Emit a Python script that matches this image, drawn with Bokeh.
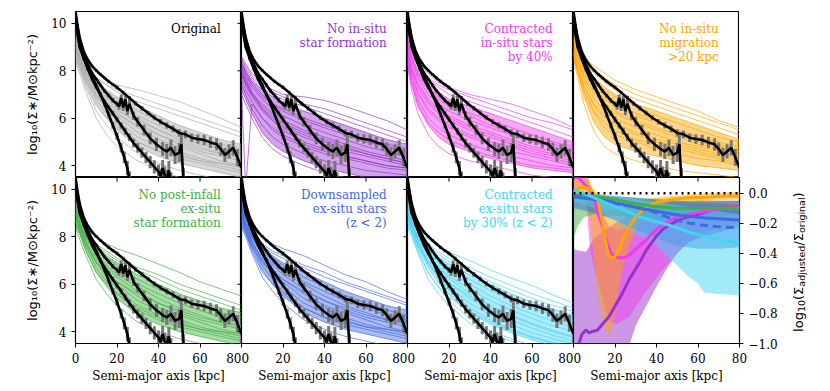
import math
from bokeh.plotting import figure
from bokeh.layouts import column, row
from bokeh.models import FixedTicker, Label, Range1d, CustomJSTickFormatter
from bokeh.embed import file_html
from bokeh.resources import INLINE

# ---------------- data ----------------
R = [0, 2, 5, 10, 15, 20, 30, 40, 50, 60, 70, 80]

original = [
    [9.9, 9.1, 8.5, 7.9, 7.6, 7.4, 7.2, 6.95, 6.7, 6.35, 6.0, 5.6],
    [9.7, 8.9, 8.3, 7.7, 7.4, 7.2, 6.9, 6.6, 6.3, 6.0, 5.7, 5.4],
    [9.6, 8.9, 8.3, 7.7, 7.4, 7.1, 6.7, 6.4, 6.1, 5.8, 5.5, 5.2],
    [9.4, 8.8, 8.2, 7.6, 7.2, 6.9, 6.5, 6.1, 5.7, 5.4, 5.1, 4.9],
    [9.5, 8.7, 8.1, 7.5, 7.1, 6.8, 6.3, 5.9, 5.5, 5.2, 4.9, 4.7],
    [9.2, 8.6, 8.0, 7.4, 7.0, 6.6, 6.1, 5.7, 5.3, 5.0, 4.7, 4.5],
    [9.2, 8.6, 7.9, 7.2, 6.7, 6.3, 5.9, 5.5, 5.2, 4.9, 4.7, 4.6],
    [9.0, 8.5, 7.9, 7.3, 6.9, 6.5, 6.0, 5.5, 5.1, 4.8, 4.5, 4.3],
    [9.0, 8.4, 7.6, 6.9, 6.5, 6.2, 5.7, 5.3, 5.0, 4.7, 4.5, 4.4],
    [9.3, 8.6, 8.0, 7.3, 6.8, 6.4, 5.8, 5.3, 4.9, 4.6, 4.4, 4.2],
    [8.9, 8.4, 7.8, 7.1, 6.6, 6.2, 5.6, 5.1, 4.8, 4.5, 4.2, 4.0],
    [8.8, 8.3, 7.7, 7.0, 6.5, 6.1, 5.4, 5.0, 4.6, 4.3, 4.1, 3.9],
    [8.7, 8.2, 7.4, 6.5, 6.0, 5.6, 5.0, 4.6, 4.4, 4.2, 4.1, 4.0],
    [9.1, 8.5, 7.8, 7.0, 6.4, 5.9, 5.2, 4.8, 4.5, 4.2, 4.0, 3.8],
    [8.6, 8.2, 7.6, 6.8, 6.2, 5.7, 5.0, 4.6, 4.3, 4.1, 3.9, 3.7],
    [8.5, 8.1, 7.5, 6.6, 6.0, 5.5, 4.8, 4.4, 4.1, 3.9, 3.7, 3.5],
    [8.4, 8.0, 7.3, 6.3, 5.7, 5.2, 4.5, 4.1, 3.8, 3.6, 3.4, 3.3],
    [8.3, 7.9, 7.1, 6.0, 5.3, 4.8, 4.2, 3.8, 3.5, 3.3, 3.2, 3.1],
]

no_insitu_sf = [
    [8.6, 8.3, 7.9, 7.5, 7.2, 7.0, 6.9, 6.75, 6.5, 6.2, 5.9, 5.5],
    [8.5, 8.2, 7.8, 7.4, 7.1, 6.9, 6.6, 6.4, 6.1, 5.8, 5.5, 5.2],
    [8.5, 8.1, 7.7, 7.3, 7.0, 6.8, 6.5, 6.2, 5.9, 5.6, 5.3, 5.0],
    [8.3, 8.0, 7.6, 7.2, 6.9, 6.6, 6.3, 6.0, 5.7, 5.4, 5.1, 4.9],
    [8.3, 7.9, 7.4, 6.9, 6.6, 6.4, 6.0, 5.7, 5.4, 5.1, 4.9, 4.7],
    [8.4, 8.0, 7.5, 7.0, 6.6, 6.3, 5.9, 5.6, 5.3, 5.0, 4.8, 4.6],
    [8.1, 7.8, 7.3, 6.8, 6.4, 6.1, 5.7, 5.4, 5.1, 4.8, 4.6, 4.4],
    [8.0, 7.5, 7.0, 6.5, 6.1, 5.8, 5.4, 5.1, 4.8, 4.5, 4.3, 4.1],
    [8.0, 7.6, 7.1, 6.6, 6.2, 5.9, 5.5, 5.2, 4.9, 4.6, 4.4, 4.2],
    [7.9, 7.5, 7.0, 6.4, 6.0, 5.7, 5.3, 5.0, 4.7, 4.5, 4.3, 4.1],
    [7.8, 7.4, 6.9, 6.3, 5.9, 5.6, 5.2, 4.9, 4.6, 4.4, 4.2, 4.0],
    [8.2, 7.7, 7.1, 6.4, 5.9, 5.5, 5.0, 4.7, 4.4, 4.2, 4.0, 3.9],
    [7.6, 7.2, 6.7, 6.0, 5.5, 5.2, 4.8, 4.5, 4.3, 4.1, 3.9, 3.8],
    [7.4, 7.0, 6.4, 5.7, 5.2, 4.9, 4.5, 4.2, 4.0, 3.8, 3.7, 3.6],
    [7.2, 6.8, 6.2, 5.4, 4.9, 4.6, 4.2, 3.9, 3.7, 3.5, 3.4, 3.3],
    [7.0, 6.6, 6.0, 5.2, 4.7, 4.4, 4.0, 3.7, 3.5, 3.4, 3.3, 3.2],
    [7.2, 3.0, 6.6, 6.0, 5.6, 5.3, 4.9, 4.6, 4.4, 4.2, 4.0, 3.9],
]

contracted_insitu = [
    [9.8, 9.0, 8.4, 7.9, 7.5, 7.3, 7.0, 6.8, 6.6, 6.3, 6.0, 5.6],
    [9.6, 8.9, 8.3, 7.7, 7.4, 7.2, 6.9, 6.6, 6.3, 6.0, 5.8, 5.5],
    [9.5, 8.8, 8.2, 7.6, 7.3, 7.0, 6.7, 6.4, 6.1, 5.8, 5.5, 5.2],
    [9.4, 8.7, 8.0, 7.4, 7.1, 6.8, 6.5, 6.2, 5.9, 5.6, 5.3, 5.0],
    [9.3, 8.6, 7.9, 7.3, 6.9, 6.6, 6.2, 5.9, 5.6, 5.3, 5.0, 4.8],
    [9.2, 8.5, 7.8, 7.2, 6.8, 6.5, 6.1, 5.7, 5.4, 5.1, 4.9, 4.7],
    [9.1, 8.4, 7.7, 7.0, 6.6, 6.3, 5.9, 5.6, 5.3, 5.0, 4.8, 4.6],
    [9.0, 8.2, 7.5, 6.8, 6.4, 6.1, 5.7, 5.4, 5.1, 4.8, 4.6, 4.4],
    [8.9, 8.1, 7.4, 6.7, 6.3, 6.0, 5.6, 5.3, 5.0, 4.7, 4.5, 4.3],
    [8.8, 8.0, 7.3, 6.6, 6.2, 5.9, 5.5, 5.2, 4.9, 4.6, 4.4, 4.2],
    [8.7, 7.9, 7.1, 6.4, 6.0, 5.7, 5.3, 5.0, 4.8, 4.5, 4.3, 4.1],
    [8.6, 7.8, 7.0, 6.3, 5.9, 5.6, 5.2, 4.9, 4.6, 4.4, 4.2, 4.0],
    [8.5, 7.6, 6.8, 6.0, 5.6, 5.3, 4.9, 4.6, 4.4, 4.2, 4.0, 3.9],
    [8.4, 7.5, 6.6, 5.8, 5.4, 5.1, 4.7, 4.4, 4.2, 4.0, 3.9, 3.8],
    [8.3, 7.4, 6.5, 5.7, 5.2, 4.9, 4.6, 4.3, 4.1, 3.9, 3.8, 3.7],
    [8.2, 7.2, 6.2, 5.3, 4.8, 4.5, 4.2, 4.0, 3.8, 3.6, 3.5, 3.4],
]

no_migration = [
    [9.8, 9.1, 8.5, 8.2, 7.9, 7.6, 7.2, 6.9, 6.6, 6.3, 5.9, 5.6],
    [9.6, 9.0, 8.4, 8.0, 7.7, 7.4, 7.0, 6.7, 6.4, 6.1, 5.8, 5.5],
    [9.5, 8.9, 8.3, 7.9, 7.5, 7.2, 6.8, 6.5, 6.2, 5.9, 5.6, 5.3],
    [9.4, 8.8, 8.2, 7.7, 7.3, 7.0, 6.6, 6.3, 6.0, 5.7, 5.4, 5.1],
    [9.3, 8.7, 8.1, 7.6, 7.2, 6.9, 6.5, 6.1, 5.8, 5.5, 5.2, 5.0],
    [9.2, 8.6, 8.0, 7.4, 6.9, 6.6, 6.2, 5.9, 5.5, 5.2, 5.0, 4.8],
    [9.1, 8.6, 7.9, 7.3, 6.8, 6.5, 6.1, 5.8, 5.5, 5.2, 4.9, 4.7],
    [9.0, 8.5, 7.8, 7.1, 6.6, 6.3, 5.9, 5.6, 5.3, 5.0, 4.8, 4.6],
    [9.0, 8.4, 7.7, 7.0, 6.5, 6.2, 5.8, 5.5, 5.2, 4.9, 4.7, 4.5],
    [8.9, 8.3, 7.6, 6.8, 6.3, 6.0, 5.6, 5.3, 5.0, 4.8, 4.6, 4.4],
    [8.8, 8.2, 7.4, 6.5, 6.0, 5.7, 5.3, 5.0, 4.8, 4.6, 4.4, 4.2],
    [8.8, 8.1, 7.3, 6.6, 6.1, 5.8, 5.4, 5.1, 4.9, 4.7, 4.5, 4.3],
    [8.7, 8.0, 7.1, 6.2, 5.6, 5.3, 5.0, 4.7, 4.5, 4.3, 4.2, 4.0],
    [8.7, 8.0, 7.2, 6.3, 5.8, 5.5, 5.1, 4.9, 4.7, 4.5, 4.3, 4.1],
    [8.6, 7.9, 6.9, 5.8, 5.2, 4.9, 4.6, 4.4, 4.2, 4.0, 3.9, 3.8],
    [8.5, 7.7, 6.6, 5.4, 4.8, 4.5, 4.2, 4.0, 3.8, 3.7, 3.6, 3.5],
]

no_exsitu_sf = [
    [9.8, 9.1, 8.5, 8.0, 7.7, 7.5, 7.2, 6.85, 6.5, 6.1, 5.8, 5.5],
    [9.7, 8.9, 8.2, 7.6, 7.3, 7.0, 6.6, 6.2, 5.8, 5.5, 5.2, 4.9],
    [9.6, 8.9, 8.3, 7.7, 7.4, 7.1, 6.7, 6.4, 6.0, 5.7, 5.4, 5.1],
    [9.4, 8.8, 8.2, 7.6, 7.2, 6.9, 6.4, 6.0, 5.6, 5.3, 5.0, 4.8],
    [9.5, 8.7, 8.1, 7.5, 7.1, 6.8, 6.2, 5.8, 5.4, 5.1, 4.8, 4.6],
    [9.2, 8.6, 8.0, 7.4, 7.0, 6.6, 6.0, 5.6, 5.2, 4.9, 4.6, 4.4],
    [9.0, 8.5, 7.9, 7.3, 6.8, 6.4, 5.9, 5.4, 5.0, 4.7, 4.4, 4.2],
    [9.0, 8.4, 7.6, 6.9, 6.4, 6.1, 5.6, 5.2, 4.9, 4.6, 4.4, 4.3],
    [9.3, 8.6, 8.0, 7.3, 6.7, 6.3, 5.7, 5.2, 4.8, 4.5, 4.3, 4.1],
    [8.9, 8.4, 7.8, 7.1, 6.5, 6.1, 5.5, 5.0, 4.7, 4.4, 4.1, 3.9],
    [8.8, 8.3, 7.7, 7.0, 6.4, 6.0, 5.3, 4.9, 4.5, 4.2, 4.0, 3.8],
    [8.7, 8.2, 7.4, 6.5, 6.0, 5.6, 5.0, 4.6, 4.3, 4.1, 4.0, 3.9],
    [9.1, 8.5, 7.8, 6.9, 6.3, 5.8, 5.1, 4.7, 4.4, 4.1, 3.9, 3.7],
    [8.6, 8.2, 7.6, 6.7, 6.1, 5.6, 4.9, 4.5, 4.2, 4.0, 3.8, 3.6],
    [8.5, 8.1, 7.4, 6.5, 5.9, 5.4, 4.7, 4.3, 4.0, 3.8, 3.6, 3.4],
    [8.4, 7.9, 7.2, 6.2, 5.6, 5.1, 4.4, 4.0, 3.7, 3.5, 3.3, 3.2],
]

downsampled_exsitu = [
    [9.8, 9.1, 8.5, 8.0, 7.7, 7.5, 7.2, 6.8, 6.4, 6.1, 5.7, 5.35],
    [9.7, 8.9, 8.2, 7.6, 7.3, 7.1, 6.7, 6.3, 6.0, 5.7, 5.4, 5.1],
    [9.6, 8.9, 8.3, 7.7, 7.4, 7.2, 6.8, 6.5, 6.1, 5.8, 5.5, 5.2],
    [9.4, 8.8, 8.2, 7.6, 7.2, 6.9, 6.5, 6.1, 5.7, 5.4, 5.1, 4.9],
    [9.5, 8.7, 8.1, 7.5, 7.1, 6.8, 6.3, 5.9, 5.5, 5.2, 4.9, 4.7],
    [9.2, 8.6, 8.0, 7.4, 7.0, 6.6, 6.1, 5.7, 5.3, 5.0, 4.7, 4.5],
    [9.0, 8.4, 7.6, 6.9, 6.5, 6.2, 5.7, 5.3, 5.0, 4.7, 4.5, 4.4],
    [9.0, 8.5, 7.9, 7.3, 6.9, 6.5, 6.0, 5.5, 5.1, 4.8, 4.5, 4.3],
    [9.3, 8.6, 8.0, 7.3, 6.8, 6.4, 5.8, 5.3, 4.9, 4.6, 4.4, 4.2],
    [8.9, 8.4, 7.8, 7.1, 6.6, 6.2, 5.6, 5.1, 4.8, 4.5, 4.2, 4.0],
    [8.7, 8.2, 7.4, 6.5, 6.0, 5.6, 5.0, 4.6, 4.4, 4.2, 4.1, 4.0],
    [8.8, 8.3, 7.7, 7.0, 6.5, 6.1, 5.4, 5.0, 4.6, 4.3, 4.1, 3.9],
    [9.1, 8.5, 7.8, 7.0, 6.4, 5.9, 5.2, 4.8, 4.5, 4.2, 4.0, 3.8],
    [8.6, 8.2, 7.6, 6.8, 6.2, 5.7, 5.0, 4.6, 4.3, 4.1, 3.9, 3.7],
    [8.5, 8.1, 7.5, 6.6, 6.0, 5.5, 4.8, 4.4, 4.1, 3.9, 3.7, 3.5],
    [8.4, 8.0, 7.3, 6.3, 5.7, 5.2, 4.5, 4.1, 3.8, 3.6, 3.4, 3.3],
]

contracted_exsitu = [
    [9.8, 9.1, 8.5, 7.9, 7.6, 7.35, 7.0, 6.6, 6.25, 5.95, 5.55, 5.2],
    [9.7, 8.9, 8.2, 7.6, 7.25, 6.95, 6.55, 6.1, 5.75, 5.4, 5.1, 4.85],
    [9.6, 8.9, 8.3, 7.7, 7.35, 7.1, 6.7, 6.3, 5.95, 5.6, 5.3, 5.0],
    [9.4, 8.8, 8.2, 7.55, 7.15, 6.85, 6.4, 6.0, 5.6, 5.25, 4.95, 4.7],
    [9.5, 8.7, 8.1, 7.45, 7.0, 6.7, 6.2, 5.75, 5.35, 5.0, 4.7, 4.45],
    [9.2, 8.6, 8.0, 7.35, 6.9, 6.5, 6.0, 5.5, 5.1, 4.75, 4.45, 4.2],
    [9.0, 8.5, 7.9, 7.2, 6.75, 6.35, 5.8, 5.3, 4.9, 4.55, 4.25, 4.0],
    [9.0, 8.4, 7.6, 6.85, 6.4, 6.05, 5.5, 5.0, 4.65, 4.3, 4.0, 3.75],
    [9.3, 8.6, 8.0, 7.2, 6.7, 6.25, 5.6, 5.1, 4.7, 4.35, 4.05, 3.8],
    [8.9, 8.4, 7.8, 7.0, 6.5, 6.05, 5.4, 4.9, 4.5, 4.15, 3.85, 3.6],
    [8.8, 8.3, 7.7, 6.9, 6.35, 5.9, 5.2, 4.7, 4.3, 3.95, 3.7, 3.5],
    [8.7, 8.2, 7.4, 6.45, 5.9, 5.45, 4.85, 4.4, 4.05, 3.75, 3.5, 3.3],
    [9.1, 8.5, 7.8, 6.9, 6.25, 5.75, 5.0, 4.5, 4.1, 3.8, 3.55, 3.35],
    [8.6, 8.2, 7.6, 6.7, 6.05, 5.55, 4.8, 4.3, 3.95, 3.65, 3.4, 3.2],
    [8.5, 8.1, 7.5, 6.5, 5.85, 5.3, 4.55, 4.05, 3.7, 3.4, 3.2, 3.0],
    [8.4, 8.0, 7.3, 6.2, 5.6, 5.1, 4.35, 3.9, 3.6, 3.35, 3.2, 3.1],
]

# observed (black) profiles with errors
obs_a_x = [0, 1, 2, 4, 6, 8, 10, 12, 14, 16, 18, 20, 23, 26, 29, 32, 35, 38, 41, 44, 47,
           50, 53, 56, 59, 62, 65, 68, 70, 72, 74, 76, 78, 80]
obs_a_y = [10.5, 9.9, 9.4, 8.8, 8.45, 8.2, 8.02, 7.85, 7.7, 7.55, 7.42, 7.3, 7.08, 6.85, 6.62,
           6.42, 6.22, 6.02, 5.85, 5.7, 5.55, 5.38, 5.32, 5.18, 5.12, 5.08, 4.98, 4.9, 4.7,
           4.45, 4.6, 4.75, 4.35, 3.9]
obs_a_e = [0.05, 0.05, 0.05, 0.05, 0.05, 0.05, 0.06, 0.06, 0.06, 0.07, 0.07, 0.08, 0.08, 0.09,
           0.09, 0.1, 0.1, 0.11, 0.12, 0.13, 0.14, 0.15, 0.16, 0.18, 0.2, 0.22, 0.24, 0.26,
           0.28, 0.3, 0.3, 0.32, 0.35, 0.4]

obs_b_x = [0, 2, 4, 6, 8, 10, 12, 14, 16, 18, 20, 21, 22, 23, 24, 25, 26, 28, 30, 33, 36, 39,
           42, 44, 46, 48, 50, 51, 52]
obs_b_y = [10.3, 9.3, 8.7, 8.25, 7.9, 7.65, 7.4, 7.15, 6.95, 6.75, 6.6, 6.5, 6.85, 6.45, 6.8,
           6.3, 6.6, 6.1, 5.85, 5.5, 5.15, 4.9, 4.7, 4.6, 4.75, 4.45, 4.55, 4.9, 3.4]
obs_b_e = [0.05, 0.05, 0.05, 0.06, 0.06, 0.07, 0.07, 0.08, 0.08, 0.1, 0.12, 0.14, 0.15, 0.15,
           0.16, 0.16, 0.17, 0.18, 0.2, 0.22, 0.25, 0.28, 0.3, 0.32, 0.35, 0.38, 0.4, 0.45, 0.5]

obs_c_x = [0, 2, 4, 6, 8, 10, 12, 14, 16, 18, 20, 22, 24, 26, 28, 30, 32, 34, 36, 38, 40, 41,
           42, 43, 44, 45, 46]
obs_c_y = [10.2, 9.2, 8.55, 8.05, 7.65, 7.3, 7.0, 6.7, 6.45, 6.2, 5.95, 5.7, 5.45, 5.2, 4.95,
           4.75, 4.55, 4.35, 4.15, 3.95, 3.75, 3.55, 3.9, 3.6, 3.45, 3.8, 3.3]
obs_c_e = [0.05, 0.05, 0.05, 0.06, 0.06, 0.07, 0.08, 0.09, 0.1, 0.11, 0.12, 0.13, 0.15, 0.16,
           0.18, 0.2, 0.22, 0.24, 0.26, 0.28, 0.3, 0.32, 0.34, 0.36, 0.38, 0.4, 0.42]

obs_d_x = [0, 2, 4, 6, 8, 10, 12, 14, 16, 18, 20, 22, 23.5, 25, 26]
obs_d_y = [10.0, 9.0, 8.5, 8.1, 7.75, 7.4, 7.0, 6.6, 6.15, 5.7, 5.25, 4.75, 4.35, 3.9, 3.4]
obs_d_e = [0.05, 0.05, 0.06, 0.06, 0.07, 0.08, 0.09, 0.1, 0.12, 0.14, 0.16, 0.2, 0.25, 0.3, 0.35]

# ratio panel: median lines
ratio_purple_x = [2.7, 4, 5.9, 7.5, 9.2, 11.6, 14, 17.2, 20, 23.6, 27, 31.7, 35, 39.7, 43, 47.7,
                  52, 55.8, 60, 67, 73, 80]
ratio_purple_y = [-1.0, -0.94, -0.91, -0.93, -0.92, -0.91, -0.87, -0.82, -0.75, -0.665, -0.57,
                  -0.465, -0.38, -0.29, -0.24, -0.2, -0.17, -0.155, -0.14, -0.11, -0.1, -0.09]
ratio_magenta_x = [0, 2, 4, 6, 8, 9, 10, 12, 14, 16, 18, 20, 22, 24, 26, 28, 31, 35, 40, 43, 48,
                   56, 67, 80]
ratio_magenta_y = [0.1, 0.11, 0.08, 0.05, 0.03, 0.0, -0.05, -0.14, -0.22, -0.32, -0.4, -0.42,
                   -0.43, -0.43, -0.42, -0.4, -0.36, -0.31, -0.24, -0.21, -0.17, -0.14, -0.11,
                   -0.09]
ratio_orange_x = [0, 1, 3, 5, 8, 10, 12, 14, 15, 16, 17, 18, 19, 20, 22, 24, 27, 30, 35, 40, 48,
                  55, 64, 72, 80]
ratio_orange_y = [0.0, 0.02, 0.04, 0.04, 0.03, 0.0, -0.06, -0.2, -0.28, -0.36, -0.41, -0.43,
                  -0.43, -0.42, -0.37, -0.3, -0.22, -0.155, -0.09, -0.06, -0.04, -0.03, -0.027,
                  -0.02, -0.018]
ratio_green_x = [0, 10, 20, 30, 40, 50, 60, 70, 80]
ratio_green_y = [-0.01, -0.02, -0.04, -0.07, -0.09, -0.1, -0.1, -0.1, -0.1]
ratio_blue_x = [0, 10, 16, 24, 32, 40, 48, 56, 64, 72, 80]
ratio_blue_y = [-0.025, -0.04, -0.05, -0.075, -0.1, -0.12, -0.14, -0.155, -0.165, -0.172, -0.178]
ratio_blue2_x = [0, 10, 20, 30, 40, 48, 56, 64, 72, 80]
ratio_blue2_y = [-0.02, -0.04, -0.07, -0.09, -0.13, -0.175, -0.2, -0.215, -0.225, -0.23]
ratio_cyan_x = [0, 5, 10, 16, 24, 32, 40, 48, 56, 64, 72, 80]
ratio_cyan_y = [0.02, 0.0, -0.03, -0.066, -0.11, -0.155, -0.19, -0.22, -0.26, -0.29, -0.315, -0.33]

# ratio panel: scatter bands
band_purple_x = [0, 1.5, 6, 10, 15, 20, 26, 30, 35, 40, 45, 50, 55, 60, 70, 80]
band_purple_lo = [-1.05, -1.05, -1.05, -1.05, -1.05, -1.05, -1.05, -0.88, -0.75, -0.62, -0.5,
                  -0.4, -0.33, -0.3, -0.26, -0.22]
band_purple_hi = [-0.37, -0.38, -0.39, -0.3, -0.25, -0.2, -0.15, -0.12, -0.1, -0.08, -0.07,
                  -0.06, -0.06, -0.05, -0.05, -0.05]
band_magenta_x = [0, 3, 6, 7, 8, 10, 12, 17, 21, 27, 35, 43, 48, 55, 65, 80]
band_magenta_lo = [0.0, 0.02, 0.02, -0.2, -0.38, -0.5, -0.6, -0.85, -0.87, -0.82, -0.65, -0.51,
                   -0.43, -0.33, -0.25, -0.2]
band_magenta_hi = [0.12, 0.12, 0.12, 0.1, 0.06, -0.02, -0.08, -0.22, -0.25, -0.23, -0.18, -0.13,
                   -0.1, -0.08, -0.06, -0.05]
band_orange_x = [0, 5, 7, 8, 10, 12, 14, 16, 18, 20, 22, 24, 27, 31, 36, 42, 50, 65, 80]
band_orange_lo = [-0.03, -0.05, -0.1, -0.2, -0.45, -0.7, -0.85, -0.93, -0.93, -0.8, -0.62,
                  -0.48, -0.35, -0.22, -0.14, -0.1, -0.07, -0.05, -0.04]
band_orange_hi = [0.1, 0.1, 0.1, 0.08, 0.0, -0.08, -0.1, -0.12, -0.12, -0.11, -0.1, -0.09,
                  -0.07, -0.05, -0.035, -0.025, -0.015, 0.0, 0.01]
band_green_x = [0, 2, 5, 10, 20, 30, 40, 50, 60, 70, 80]
band_green_lo = [-0.3, -0.22, -0.16, -0.14, -0.15, -0.16, -0.17, -0.17, -0.16, -0.15, -0.15]
band_green_hi = [0.0, -0.005, -0.005, -0.01, -0.02, -0.03, -0.04, -0.05, -0.05, -0.05, -0.05]
band_blue_x = [0, 10, 20, 30, 40, 50, 60, 70, 80]
band_blue_lo = [-0.1, -0.13, -0.18, -0.24, -0.3, -0.35, -0.37, -0.37, -0.36]
band_blue_hi = [0.0, -0.01, -0.02, -0.03, -0.04, -0.05, -0.06, -0.07, -0.08]
band_cyan_x = [0, 10, 20, 30, 40, 45, 50, 55, 60, 63, 70, 80]
band_cyan_lo = [-0.05, -0.1, -0.18, -0.27, -0.35, -0.42, -0.48, -0.55, -0.6, -0.66, -0.67, -0.68]
band_cyan_hi = [0.02, 0.0, -0.02, -0.04, -0.06, -0.07, -0.08, -0.09, -0.1, -0.11, -0.12, -0.14]

x_ticks = [0, 20, 40, 60, 80]
y_ticks = [4, 6, 8, 10]
ratio_ticks = [-1.0, -0.8, -0.6, -0.4, -0.2, 0.0]

# ---------------- styling ----------------
SERIF = "DejaVu Serif"
SANS = "DejaVu Sans"
GREY = "#A9A9A9"
PURPLE = "#9932CC"
MAGENTA = "#EE3BEE"
ORANGE = "#FFA500"
GREEN = "#40B040"
BLUE = "#4169E1"
CYAN = "#45D3F3"

FW, FH = 166, 166
LB, TB, BB = 75, 11, 40
RB_RATIO = 38     # room for the ratio tick labels
TITLE_W = 32      # strip holding the ratio axis title


def style_axis(ax):
    ax.axis_line_color = None
    ax.major_tick_out = 4
    ax.major_tick_in = 0
    ax.minor_tick_out = 0
    ax.minor_tick_in = 0
    ax.major_tick_line_color = "black"
    ax.major_tick_line_width = 1
    ax.major_label_text_font = SERIF
    ax.major_label_text_font_size = "12px"
    ax.major_label_text_color = "black"
    ax.major_label_standoff = 5
    ax.axis_label_text_font_style = "normal"
    ax.axis_label_text_color = "black"


def tick_marks_right(p, ticks):
    # ticks of the neighbouring panel, pointing into this one
    p.ray(x=[80] * len(ticks), y=ticks, length=4, length_units="screen",
          angle=math.pi, line_color="black", line_width=1)


def tick_marks_top(p, ticks, ytop):
    p.ray(x=ticks, y=[ytop] * len(ticks), length=4, length_units="screen",
          angle=-math.pi / 2, line_color="black", line_width=1)


def base_figure(col, top, y_range, right_border=0):
    p = figure(frame_width=FW, frame_height=FH,
               x_range=Range1d(0, 80), y_range=y_range,
               output_backend="svg", toolbar_location=None,
               min_border_left=LB if col == 0 else 0,
               min_border_right=right_border,
               min_border_top=TB if top else 0,
               min_border_bottom=0 if top else BB)
    p.grid.visible = False
    p.outline_line_color = "black"
    p.outline_line_width = 1.2
    p.background_fill_color = "white"
    p.border_fill_color = "white"
    return p


def add_obs(p):
    for xs, ys, es in [(obs_a_x, obs_a_y, obs_a_e), (obs_b_x, obs_b_y, obs_b_e),
                       (obs_c_x, obs_c_y, obs_c_e), (obs_d_x, obs_d_y, obs_d_e)]:
        p.segment(x0=xs, y0=[y - e for y, e in zip(ys, es)],
                  x1=xs, y1=[y + e for y, e in zip(ys, es)],
                  line_color="#777777", line_width=3)
    for xs, ys in [(obs_a_x, obs_a_y), (obs_b_x, obs_b_y), (obs_c_x, obs_c_y), (obs_d_x, obs_d_y)]:
        p.line(xs, ys, line_color="black", line_width=2.6)


def profile_panel(col, top, profiles, color, label_lines, hi_i, lo_i):
    p = base_figure(col, top, Range1d(3.5, 10.5), 0)
    # dense bundle of profiles between two of them
    p.varea(x=R, y1=profiles[lo_i], y2=profiles[hi_i], fill_color=color, fill_alpha=0.45)
    p.multi_line(xs=[R] * len(profiles), ys=profiles, line_color=color,
                 line_width=0.8, line_alpha=0.85)
    add_obs(p)
    for i, txt in enumerate(label_lines):
        p.add_layout(Label(x=70, y=9.78 - 0.59 * i, text=txt, text_align="right",
                           text_baseline="middle", text_font=SERIF,
                           text_font_size="12px", text_color=color if color != GREY else "black"))
    xa = p.xaxis[0]
    if top:
        xa.visible = False
    else:
        xa.ticker = FixedTicker(ticks=x_ticks)
        style_axis(xa)
        xa.axis_label = "Semi-major axis [kpc]"
        xa.axis_label_text_font = SERIF
        xa.axis_label_text_font_size = "12px"
        xa.axis_label_standoff = 3
        tick_marks_top(p, x_ticks, 10.5)
    ya = p.yaxis[0]
    if col == 0:
        ya.ticker = FixedTicker(ticks=y_ticks)
        style_axis(ya)
        ya.axis_label = "log\u2081\u2080(\u03a3\u2217/M\u2299kpc\u207b\u00b2)"
        ya.axis_label_text_font = SANS
        ya.axis_label_text_font_size = "13px"
        ya.axis_label_standoff = 8
    else:
        ya.visible = False
    if (top and col < 3) or (not top and col < 2):
        tick_marks_right(p, y_ticks)
    return p


p1 = profile_panel(0, True, original, GREY, ["Original"], 3, 15)
p2 = profile_panel(1, True, no_insitu_sf, PURPLE, ["No in-situ", "star formation"], 3, 14)
p3 = profile_panel(2, True, contracted_insitu, MAGENTA, ["Contracted", "in-situ stars", "by 40%"], 3, 14)
p4 = profile_panel(3, True, no_migration, ORANGE, ["No in-situ", "migration", ">20 kpc"], 3, 14)
p5 = profile_panel(0, False, no_exsitu_sf, GREEN, ["No post-infall", "ex-situ", "star formation"], 3, 14)
p6 = profile_panel(1, False, downsampled_exsitu, BLUE, ["Downsampled", "ex-situ stars", "(z < 2)"], 3, 14)
p7 = profile_panel(2, False, contracted_exsitu, CYAN, ["Contracted", "ex-situ stars", "by 30% (z < 2)"], 3, 13)

# ratio panel
p8 = figure(frame_width=FW, frame_height=FH, x_range=Range1d(0, 80), y_range=Range1d(-1.0, 0.105),
            output_backend="svg", toolbar_location=None, y_axis_location="right",
            min_border_left=0, min_border_right=RB_RATIO, min_border_top=0, min_border_bottom=BB)
p8.grid.visible = False
p8.outline_line_color = "black"
p8.outline_line_width = 1.2
p8.background_fill_color = "white"
p8.border_fill_color = "white"

for bx, lo, hi, c in [(band_purple_x, band_purple_lo, band_purple_hi, PURPLE),
                      (band_magenta_x, band_magenta_lo, band_magenta_hi, MAGENTA),
                      (band_orange_x, band_orange_lo, band_orange_hi, ORANGE),
                      (band_green_x, band_green_lo, band_green_hi, GREEN),
                      (band_blue_x, band_blue_lo, band_blue_hi, BLUE),
                      (band_cyan_x, band_cyan_lo, band_cyan_hi, CYAN)]:
    p8.varea(x=bx, y1=lo, y2=hi, fill_color=c, fill_alpha=0.5)

p8.line(ratio_purple_x, ratio_purple_y, line_color=PURPLE, line_width=3)
p8.line(ratio_magenta_x, ratio_magenta_y, line_color=MAGENTA, line_width=3)
p8.line(ratio_orange_x, ratio_orange_y, line_color=ORANGE, line_width=3)
p8.line(ratio_green_x, ratio_green_y, line_color=GREEN, line_width=3)
p8.line(ratio_blue_x, ratio_blue_y, line_color=BLUE, line_width=3)
p8.line(ratio_blue2_x, ratio_blue2_y, line_color=BLUE, line_width=3, line_dash="8 5")
p8.line(ratio_cyan_x, ratio_cyan_y, line_color=CYAN, line_width=3)
p8.line([0, 80], [0, 0], line_color="black", line_width=2.5, line_dash="2 4")
tick_marks_top(p8, x_ticks, 0.105)

xa = p8.xaxis[0]
xa.ticker = FixedTicker(ticks=x_ticks)
style_axis(xa)
xa.axis_label = "Semi-major axis [kpc]"
xa.axis_label_text_font = SERIF
xa.axis_label_text_font_size = "12px"
xa.axis_label_standoff = 3

ya = p8.yaxis[0]
ya.ticker = FixedTicker(ticks=ratio_ticks)
style_axis(ya)
ya.formatter = CustomJSTickFormatter(code="return tick.toFixed(1).replace('-', '\\u2212');")

# strip to the right of the ratio panel holding its axis title (bottom-to-top, with subscripts)
p9 = figure(frame_width=TITLE_W, frame_height=FH, x_range=Range1d(0, TITLE_W),
            y_range=Range1d(-1.0, 0.105), output_backend="svg", toolbar_location=None,
            min_border_left=0, min_border_right=0, min_border_top=0, min_border_bottom=BB)
p9.grid.visible = False
p9.axis.visible = False
p9.outline_line_color = None
p9.background_fill_color = "white"
p9.border_fill_color = "white"

ratio_title = [("log", "13px", -0.9228, 17.5),
               ("10", "9.5px", -0.7909, 20.5),
               ("(\u03a3", "13px", -0.7104, 17.5),
               ("adjusted", "9.5px", -0.6218, 20.5),
               ("/\u03a3", "13px", -0.3482, 17.5),
               ("original", "9.5px", -0.2643, 20.5),
               (")", "13px", -0.0280, 17.5)]
for txt, size, yy, xx in ratio_title:
    p9.add_layout(Label(x=xx, y=yy, text=txt, angle=math.pi / 2, text_align="left",
                        text_baseline="alphabetic", text_font=SANS, text_font_size=size,
                        text_color="black"))

layout = column(row(p1, p2, p3, p4), row(p5, p6, p7, p8, p9))

with open("out.html", "w") as f:
    f.write(file_html(layout, INLINE))
